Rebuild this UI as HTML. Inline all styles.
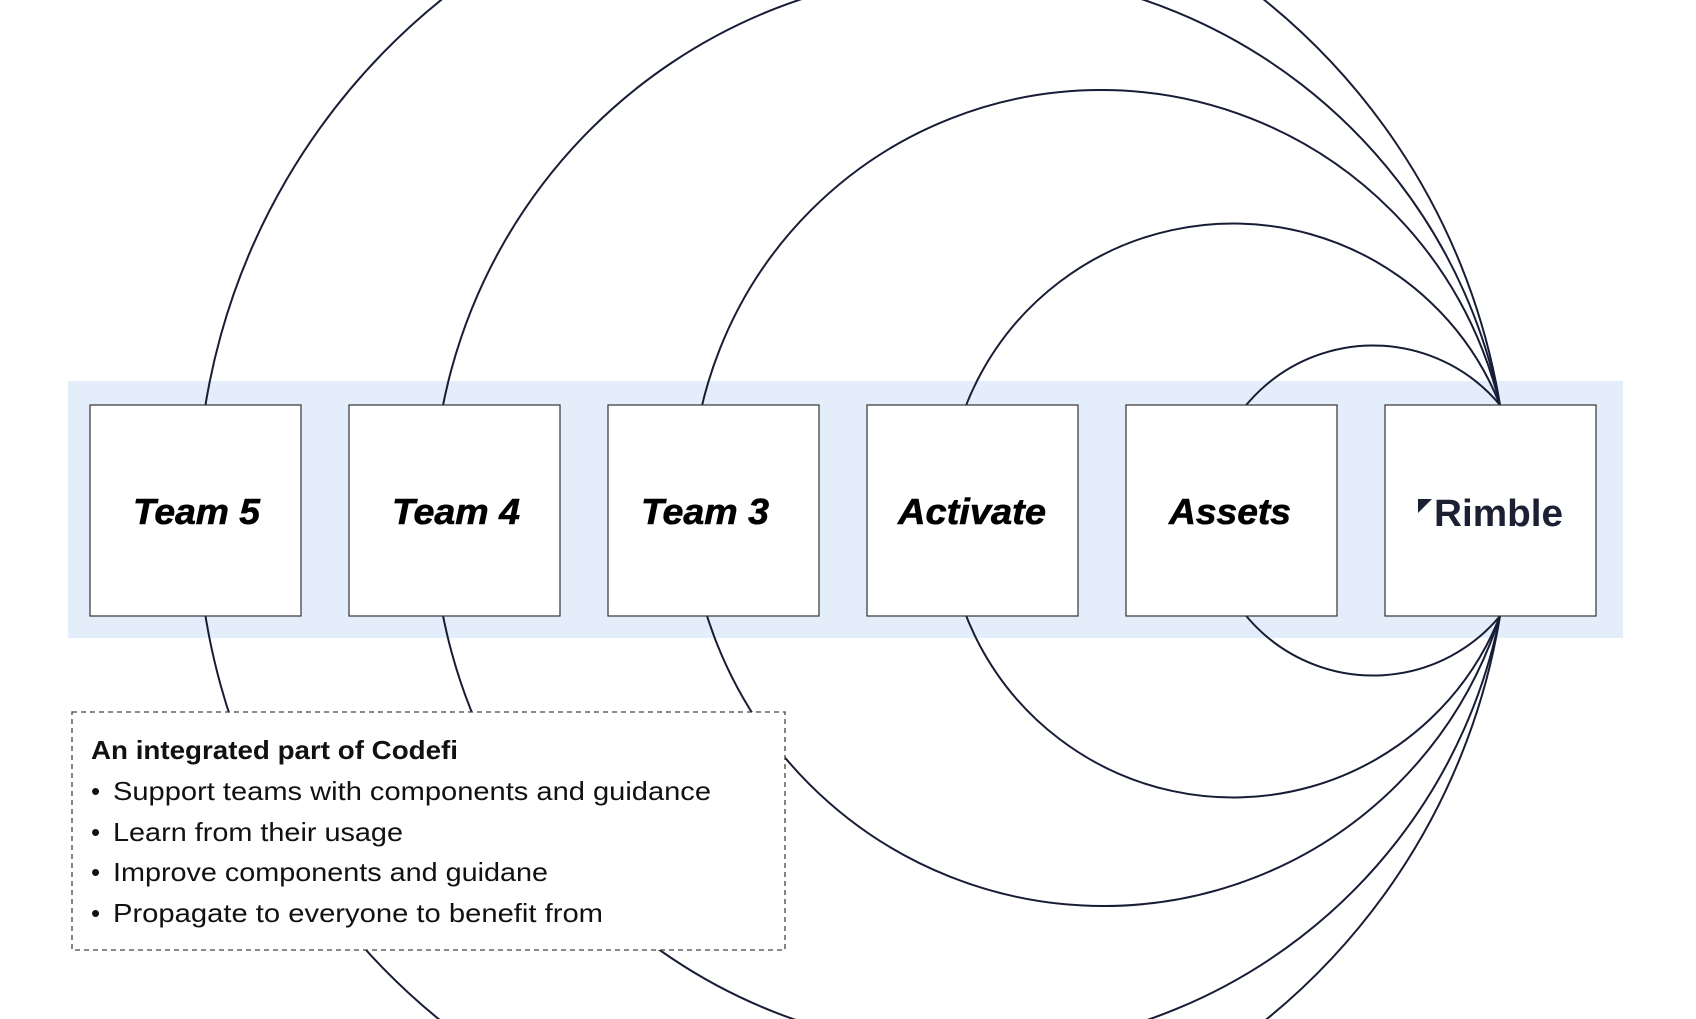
<!DOCTYPE html>
<html><head><style>
html,body{margin:0;padding:0;width:1696px;height:1019px;overflow:hidden;background:#fff;font-family:"Liberation Sans",sans-serif}
svg{display:block;position:absolute;left:0;top:0}
</style></head><body>
<svg width="1696" height="1019" xmlns="http://www.w3.org/2000/svg">
<defs>
<clipPath id="top"><rect x="0" y="0" width="1500" height="510"/></clipPath>
<clipPath id="bot"><rect x="0" y="510" width="1500" height="509"/></clipPath>
</defs>
<rect x="68" y="381" width="1555" height="257" fill="#e4eefb"/>
<g fill="none" stroke="#171d35" stroke-width="2">
<path d="M1500 405 A655.8 655.8 0 1 0 1500 616"/>
<path d="M1500 405 A538.9 538.9 0 1 0 1500 616"/>
<circle cx="1101" cy="500" r="410" clip-path="url(#top)"/>
<circle cx="1103.5" cy="490" r="416" clip-path="url(#bot)"/>
<path d="M1500 405 A287 287 0 1 0 1500 616"/>
<path d="M1500 405 A165 165 0 1 0 1500 616"/>
</g>
<g fill="#fff" stroke="#333" stroke-width="1.2">
<rect x="90" y="405" width="211" height="211"/>
<rect x="349" y="405" width="211" height="211"/>
<rect x="608" y="405" width="211" height="211"/>
<rect x="867" y="405" width="211" height="211"/>
<rect x="1126" y="405" width="211" height="211"/>
<rect x="1385" y="405" width="211" height="211"/>
</g>
<g font-family="Liberation Sans, sans-serif" font-weight="bold" font-style="italic" font-size="36" fill="#000" stroke="#000" stroke-width="0.6">
<text x="133" y="524" textLength="127" lengthAdjust="spacingAndGlyphs">Team 5</text>
<text x="392" y="524" textLength="128" lengthAdjust="spacingAndGlyphs">Team 4</text>
<text x="641" y="524" textLength="128" lengthAdjust="spacingAndGlyphs">Team 3</text>
<text x="898" y="524" textLength="148" lengthAdjust="spacingAndGlyphs">Activate</text>
<text x="1169" y="524" textLength="122" lengthAdjust="spacingAndGlyphs">Assets</text>
</g>
<polygon points="1418,499 1432,499 1418,513" fill="#1b2133"/>
<text x="1434" y="526" textLength="129" lengthAdjust="spacingAndGlyphs" font-family="Liberation Sans, sans-serif" font-weight="bold" font-size="38" fill="#1b2133">Rimble</text>
<rect x="72" y="712" width="713" height="238" fill="#fff" stroke="#444" stroke-width="1.3" stroke-dasharray="5,4"/>
<g font-family="Liberation Sans, sans-serif" font-size="26" fill="#111">
<text x="91" y="759" font-weight="bold" textLength="367" lengthAdjust="spacingAndGlyphs">An integrated part of Codefi</text>
<text x="91" y="800">•</text><text x="113" y="800" textLength="598" lengthAdjust="spacingAndGlyphs">Support teams with components and guidance</text>
<text x="91" y="841">•</text><text x="113" y="841" textLength="290" lengthAdjust="spacingAndGlyphs">Learn from their usage</text>
<text x="91" y="881">•</text><text x="113" y="881" textLength="435" lengthAdjust="spacingAndGlyphs">Improve components and guidane</text>
<text x="91" y="922">•</text><text x="113" y="922" textLength="490" lengthAdjust="spacingAndGlyphs">Propagate to everyone to benefit from</text>
</g>
</svg>
</body></html>
